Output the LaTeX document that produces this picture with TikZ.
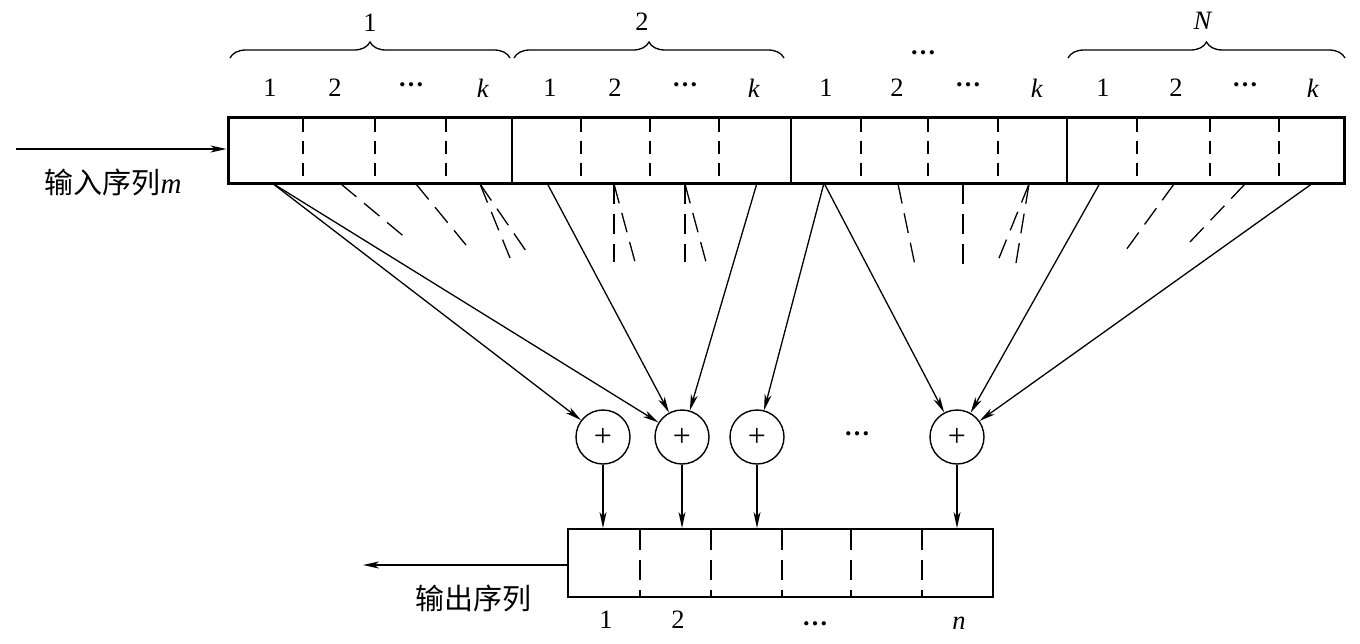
\documentclass[tikz,border=0pt]{standalone}
\usepackage{fontspec}
\setmainfont{Liberation Serif}
\newfontfamily\cjk{Noto Sans CJK SC}
\usetikzlibrary{arrows.meta,decorations.pathreplacing}
\newcommand{\mydots}{{\bfseries …}}
\begin{document}
\begin{tikzpicture}[x=1pt,y=-1pt,
  arr/.style={-{Stealth[length=16pt,width=7pt,inset=4.5pt]}, line width=1.3pt},
  dconn/.style={line width=1.3pt, dash pattern=on 20pt off 10pt},
  sep/.style={line width=1.2pt},
  dsep/.style={line width=1.6pt, dash pattern=on 13pt off 9pt},
  lab/.style={font=\fontsize{26.5}{30}\selectfont, inner sep=0pt},
  dotlab/.style={font=\fontsize{26}{30}\selectfont, inner sep=0pt},
  cjklab/.style={font=\fontsize{29}{34}\selectfont, inner sep=0pt},
  adder/.style={circle, draw, line width=1.4pt, minimum size=54pt, inner sep=0pt, font=\fontsize{32}{34}\selectfont},
  gbrace/.style={decorate, decoration={brace, amplitude=16pt}, line width=1.3pt}
]
\useasboundingbox (0,0) rectangle (1360,643);

% input register
\node[draw, line width=3pt, minimum width=1116pt, minimum height=66pt, inner sep=0pt] (reg) at (786,150) {};
\foreach \x in {512,791,1067} \draw[sep] (\x,118.5) -- (\x,181.5);
\foreach \x in {303,375,446,581,650,719,861,928,998,1137,1210,1279}
  \draw[dsep] (\x,118.5) -- (\x,181.5);

% cell labels
\foreach \x/\t [count=\i] in {270/1,335/2,483/\textit{k},
                  550/1,615/2,754/\textit{k},
                  826/1,897/2,1037/\textit{k},
                  1103/1,1176/2,1313/\textit{k}}
  \node[lab] (cl\i) at (\x,88) {\t};
\foreach \x [count=\i] in {411,685,968,1245}
  \node[dotlab] (cd\i) at (\x,85) {\mydots};

% braces and group labels
\draw[gbrace] (230,58) -- (510,58);
\draw[gbrace] (514,58) -- (784,58);
\draw[gbrace] (1068,58) -- (1345,58);
\node[lab] (g1) at (370,23) {1};
\node[lab] (g2) at (642,22) {2};
\node[dotlab] (g3) at (923,53) {\mydots};
\node[lab] (g4) at (1203,21) {\textit{N}};

% input arrow
\coordinate (inS) at (16,149);
\draw[arr] (inS) -- (inS -| reg.west);
\node[cjklab] (inlab) at (113,182) {{\cjk 输入序列}\textit{m}};

% adders
\node[adder] (c1) at (603,437) {+};
\node[adder] (c2) at (682,437) {+};
\node[adder] (c3) at (757,437) {+};
\node[adder] (c4) at (957,437) {+};
\node[dotlab] (cdots) at (857,434) {\mydots};

% tap points
\coordinate (a1) at (272,183);
\coordinate (a2) at (547,183);
\coordinate (a3) at (757,183);
\coordinate (a4) at (824,183);
\coordinate (a5) at (1100,183);
\coordinate (a6) at (1313,183);

\draw[arr] (a1) -- (c1);
\draw[arr] (a1) -- (c2);
\draw[arr] (a2) -- (c2);
\draw[arr] (a3) -- (c2);
\draw[arr] (a4) -- (c3);
\draw[arr] (a4) -- (c4);
\draw[arr] (a5) -- (c4);
\draw[arr] (a6) -- (c4);

% dashed (omitted) taps
\foreach \xa/\xb/\yb in {341/407/239, 416/466/245, 480/510/258, 480/526/251,
                         614/614/262, 614/635/262, 685/685/262, 685/706/262,
                         898/916/270, 963/963/270, 1029/997/263, 1029/1016/263,
                         1174/1126/250, 1245/1189/243}
  \draw[dconn] (\xa,184) -- (\xb,\yb);

% output register
\node[draw, line width=2pt, minimum width=425pt, minimum height=68pt, inner sep=0pt] (obox) at (780.5,563) {};
\foreach \x in {640,711,782,851,922}
  \draw[line width=1.6pt, dash pattern=on 20pt off 10pt] (\x,530) -- (\x,596);

\foreach \c in {c1,c2,c3,c4}
  \draw[arr] (\c) -- (\c |- obox.north);

\coordinate (outE) at (363,565);
\draw[arr] (obox.west |- outE) -- (outE);
\node[cjklab] (outlab) at (473,598) {\cjk 输出序列};

% output labels
\node[lab] (o1) at (606,620) {1};
\node[lab] (o2) at (678,620) {2};
\node[dotlab] (o3) at (815,624) {\mydots};
\node[lab] (o4) at (959,623) {\textit{n}};
\end{tikzpicture}
\end{document}
